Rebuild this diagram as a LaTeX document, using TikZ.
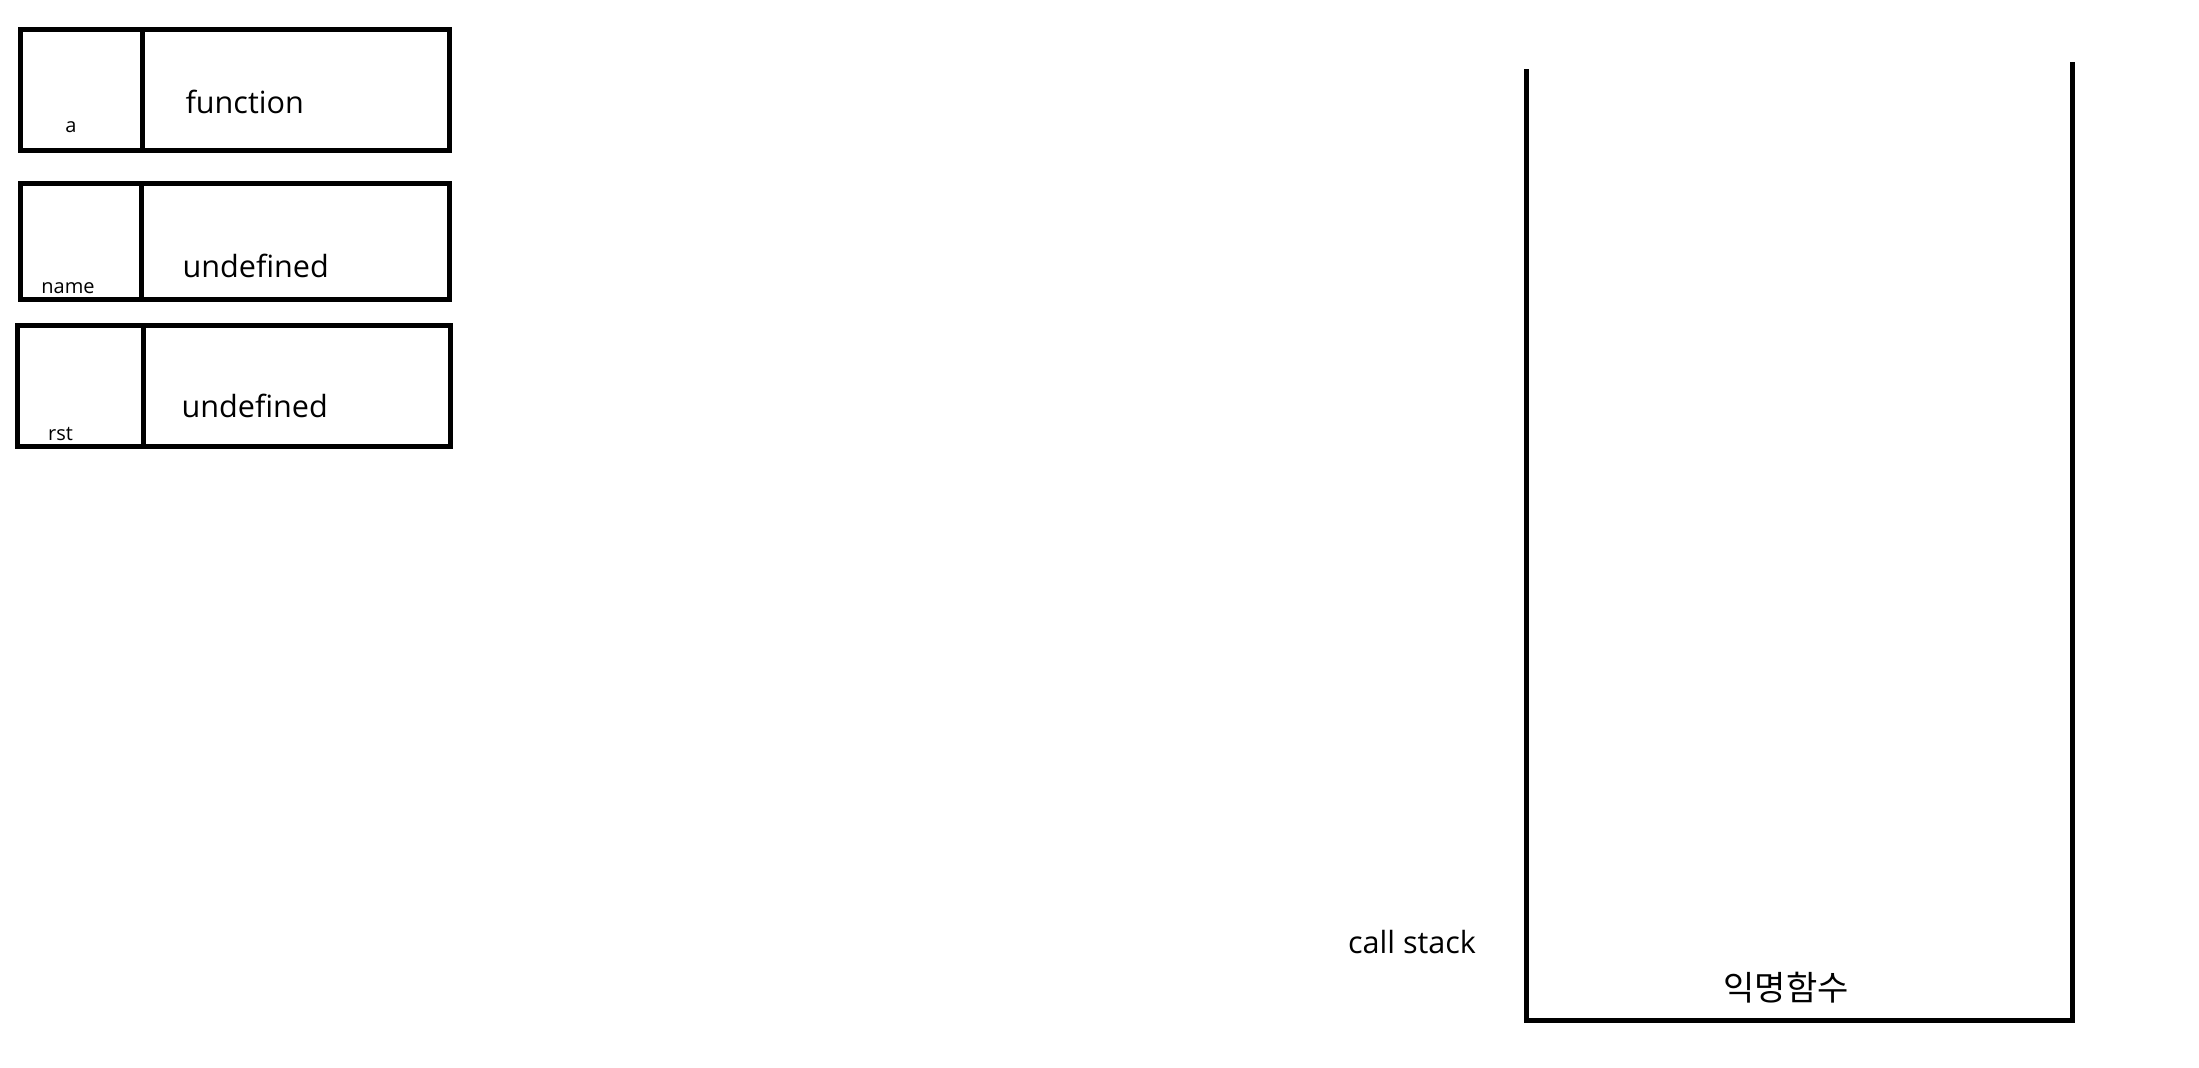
\documentclass[tikz,border=0pt]{standalone}
\usepackage{fontspec}
\setmainfont{Open Sans}
\newfontfamily\kor{Noto Sans CJK KR}
\begin{document}
\begin{tikzpicture}[x=0.5pt,y=-0.5pt, line width=2.5pt,
  cell/.style={draw, rectangle, inner sep=0pt, outer sep=0pt},
  lbl/.style={inner sep=0pt, font=\fontsize{10}{12}\selectfont, anchor=base},
  val/.style={inner sep=0pt, font=\fontsize{15.3}{18}\selectfont, anchor=base west}]
\useasboundingbox[fill=white] (0,0) rectangle (2199,1067);

% variable a
\node[cell, minimum width=60.9pt, minimum height=60.5pt] (akey) at (81.4,90) {};
\node[cell, minimum width=153.6pt, minimum height=60.5pt] (aval) at (295.9,90) {};
\node[lbl] (atxt) at (71,132.7) {a};
\node[val] (avtxt) at (183,113.3) {function};

% variable name
\node[cell, minimum width=60.4pt, minimum height=58pt] (nkey) at (80.9,241.3) {};
\node[cell, minimum width=154.1pt, minimum height=58pt] (nval) at (295.4,241.3) {};
\node[lbl] (ntxt) at (68,293.3) {name};
\node[val] (nvtxt) at (180,277.3) {undefined};

% variable rst
\node[cell, minimum width=63.2pt, minimum height=60.55pt] (rkey) at (80.5,385.75) {};
\node[cell, minimum width=153.4pt, minimum height=60.55pt] (rval) at (297.1,385.75) {};
\node[lbl] (rtxt) at (60.5,440.7) {rst};
\node[val] (rvtxt) at (179,417.3) {undefined};

% call stack
\coordinate (stl) at (1526.5,69);
\coordinate (sbl) at (1526.5,1020.2);
\coordinate (sbr) at (2072.5,1020.2);
\coordinate (str) at (2072.5,62);
\draw[line join=miter] (stl) -- (sbl) -- (sbr) -- (str);
\node[val] (cslabel) at (1345.5,953.3) {call stack};
\node[inner sep=0pt, anchor=base, font=\kor\fontsize{17}{20}\selectfont] (anon) at (1786,1000.5) {익명함수};
\end{tikzpicture}
\end{document}
